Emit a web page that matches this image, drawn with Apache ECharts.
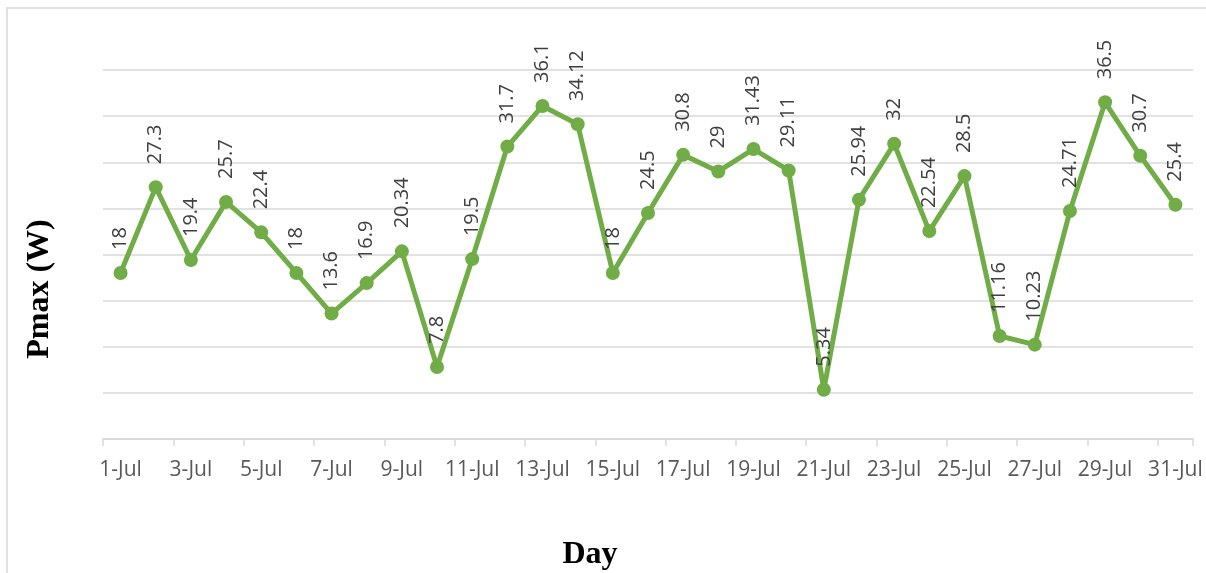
<!DOCTYPE html>
<html>
<head>
<meta charset="utf-8">
<script src="https://cdn.jsdelivr.net/npm/echarts@6/dist/echarts.min.js"></script>
<style>
  html, body { margin: 0; padding: 0; background: #ffffff; }
  #chart { width: 1206px; height: 573px; }
</style>
</head>
<body>
<div id="chart"></div>
<script>
// Daily maximum power output for July
var days = ['1-Jul','2-Jul','3-Jul','4-Jul','5-Jul','6-Jul','7-Jul','8-Jul','9-Jul','10-Jul',
            '11-Jul','12-Jul','13-Jul','14-Jul','15-Jul','16-Jul','17-Jul','18-Jul','19-Jul','20-Jul',
            '21-Jul','22-Jul','23-Jul','24-Jul','25-Jul','26-Jul','27-Jul','28-Jul','29-Jul','30-Jul','31-Jul'];
var pmax = [18, 27.3, 19.4, 25.7, 22.4, 18, 13.6, 16.9, 20.34, 7.8,
            19.5, 31.7, 36.1, 34.12, 18, 24.5, 30.8, 29, 31.43, 29.11,
            5.34, 25.94, 32, 22.54, 28.5, 11.16, 10.23, 24.71, 36.5, 30.7, 25.4];
var yTitle = 'Pmax (W)';
var xTitle = 'Day';

var gridColor = '#d9d9d9';
var labelFont = '"Open Sans", "Liberation Sans", sans-serif';
var titleFont = '"Liberation Serif", "DejaVu Serif", serif';

var chart = echarts.init(document.getElementById('chart'), null, { renderer: 'canvas' });

chart.setOption({
  animation: false,
  backgroundColor: '#ffffff',
  grid: { left: 103, right: 13, top: 70, bottom: 134, containLabel: false },
  xAxis: {
    type: 'category',
    data: days,
    boundaryGap: true,
    axisLine: { show: true, lineStyle: { color: gridColor, width: 1.5 } },
    axisTick: { show: true, interval: 1, alignWithLabel: false, length: 7,
                lineStyle: { color: gridColor, width: 1.5 } },
    axisLabel: { interval: 1, margin: 21, color: '#595959',
                 fontFamily: labelFont, fontSize: 21 },
    splitLine: { show: false }
  },
  yAxis: {
    type: 'value',
    min: 0, max: 40, interval: 5,
    axisLine: { show: false },
    axisTick: { show: false },
    axisLabel: { show: false },
    splitLine: { show: true, lineStyle: { color: gridColor, width: 1.5 } }
  },
  series: [{
    type: 'line',
    data: pmax,
    symbol: 'circle',
    symbolSize: 14,
    showAllSymbol: true,
    itemStyle: { color: '#70ad47' },
    lineStyle: { color: '#70ad47', width: 5 },
    label: {
      show: true,
      position: 'top',
      distance: 16,
      rotate: 90,
      align: 'left',
      verticalAlign: 'middle',
      color: '#404040',
      fontFamily: labelFont,
      fontSize: 20
    },
    z: 3
  }],
  graphic: [
    {
      type: 'rect',
      silent: true,
      shape: { x: 7, y: 8, width: 1400, height: 800 },
      style: { fill: 'none', stroke: gridColor, lineWidth: 1.5 }
    },
    {
      type: 'text',
      silent: true,
      x: 40, y: 289,
      rotation: Math.PI / 2,
      style: {
        text: yTitle,
        fontFamily: titleFont, fontWeight: 'bold', fontSize: 32,
        fill: '#000000', align: 'center', verticalAlign: 'middle'
      }
    },
    {
      type: 'text',
      silent: true,
      x: 590, y: 555,
      style: {
        text: xTitle,
        fontFamily: titleFont, fontWeight: 'bold', fontSize: 32,
        fill: '#000000', align: 'center', verticalAlign: 'middle'
      }
    }
  ]
});
</script>
</body>
</html>
